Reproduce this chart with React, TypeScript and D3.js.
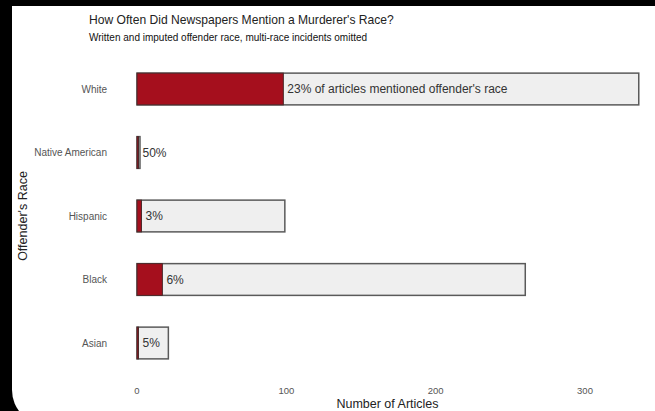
import React from "react";
import * as d3 from "d3";

const races = ["White", "Native American", "Hispanic", "Black", "Asian"];
const totalArticles = [336, 2, 99, 260, 21];
const mentionedArticles = [98, 1, 3, 17, 1];
const pctLabels = ["23% of articles mentioned offender's race", "50%", "3%", "6%", "5%"];
const xTicks = [0, 100, 200, 300];

const W = 655;
const H = 411;
const FONT = "'Liberation Sans', Arial, Helvetica, sans-serif";

export default function App() {
  const x = d3.scaleLinear().domain([0, 300]).range([137, 585]);
  const y = d3
    .scaleBand<string>()
    .domain(races)
    .range([57.25, 374.75])
    .paddingInner(0.5)
    .paddingOuter(0.25);
  const bw = y.bandwidth();

  return (
    <svg
      width={W}
      height={H}
      style={{ position: "fixed", left: 0, top: 0 }}
      fontFamily={FONT}
    >
      <rect x={0} y={0} width={W} height={H} fill="#000" />
      <path d="M 12 6 L 660 6 L 660 425 L 47 425 A 35 35 0 0 1 12 390 Z" fill="#fff" />

      <text x={89} y={24} fontSize={12.1} fill="#222">
        How Often Did Newspapers Mention a Murderer's Race?
      </text>
      <text x={89} y={41} fontSize={10} fill="#111">
        Written and imputed offender race, multi-race incidents omitted
      </text>

      {races.map((r, i) => {
        const y0 = y(r) as number;
        return (
          <g key={r}>
            <rect
              x={x(0)}
              y={y0}
              width={x(totalArticles[i]) - x(0)}
              height={bw}
              fill="#efefef"
              stroke="#5a5a5a"
              strokeWidth={1.5}
            />
            <rect
              x={x(0)}
              y={y0}
              width={x(mentionedArticles[i]) - x(0)}
              height={bw}
              fill="#a50f1d"
              stroke="#4a2a2a"
              strokeWidth={1}
            />
            <text
              x={x(mentionedArticles[i]) + 4}
              y={y0 + bw / 2}
              dy="0.35em"
              fontSize={12}
              fill="#333"
            >
              {pctLabels[i]}
            </text>
            <text
              x={107}
              y={y0 + bw / 2}
              dy="0.35em"
              textAnchor="end"
              fontSize={10}
              fill="#555"
            >
              {r}
            </text>
          </g>
        );
      })}

      {xTicks.map((t) => (
        <text key={t} x={x(t)} y={394} textAnchor="middle" fontSize={9.5} fill="#555">
          {t}
        </text>
      ))}
      <text x={387.5} y={408} textAnchor="middle" fontSize={12.5} fill="#222">
        Number of Articles
      </text>
      <text
        transform={`translate(27, 216) rotate(-90)`}
        textAnchor="middle"
        fontSize={12.5}
        fill="#222"
      >
        Offender's Race
      </text>
    </svg>
  );
}
